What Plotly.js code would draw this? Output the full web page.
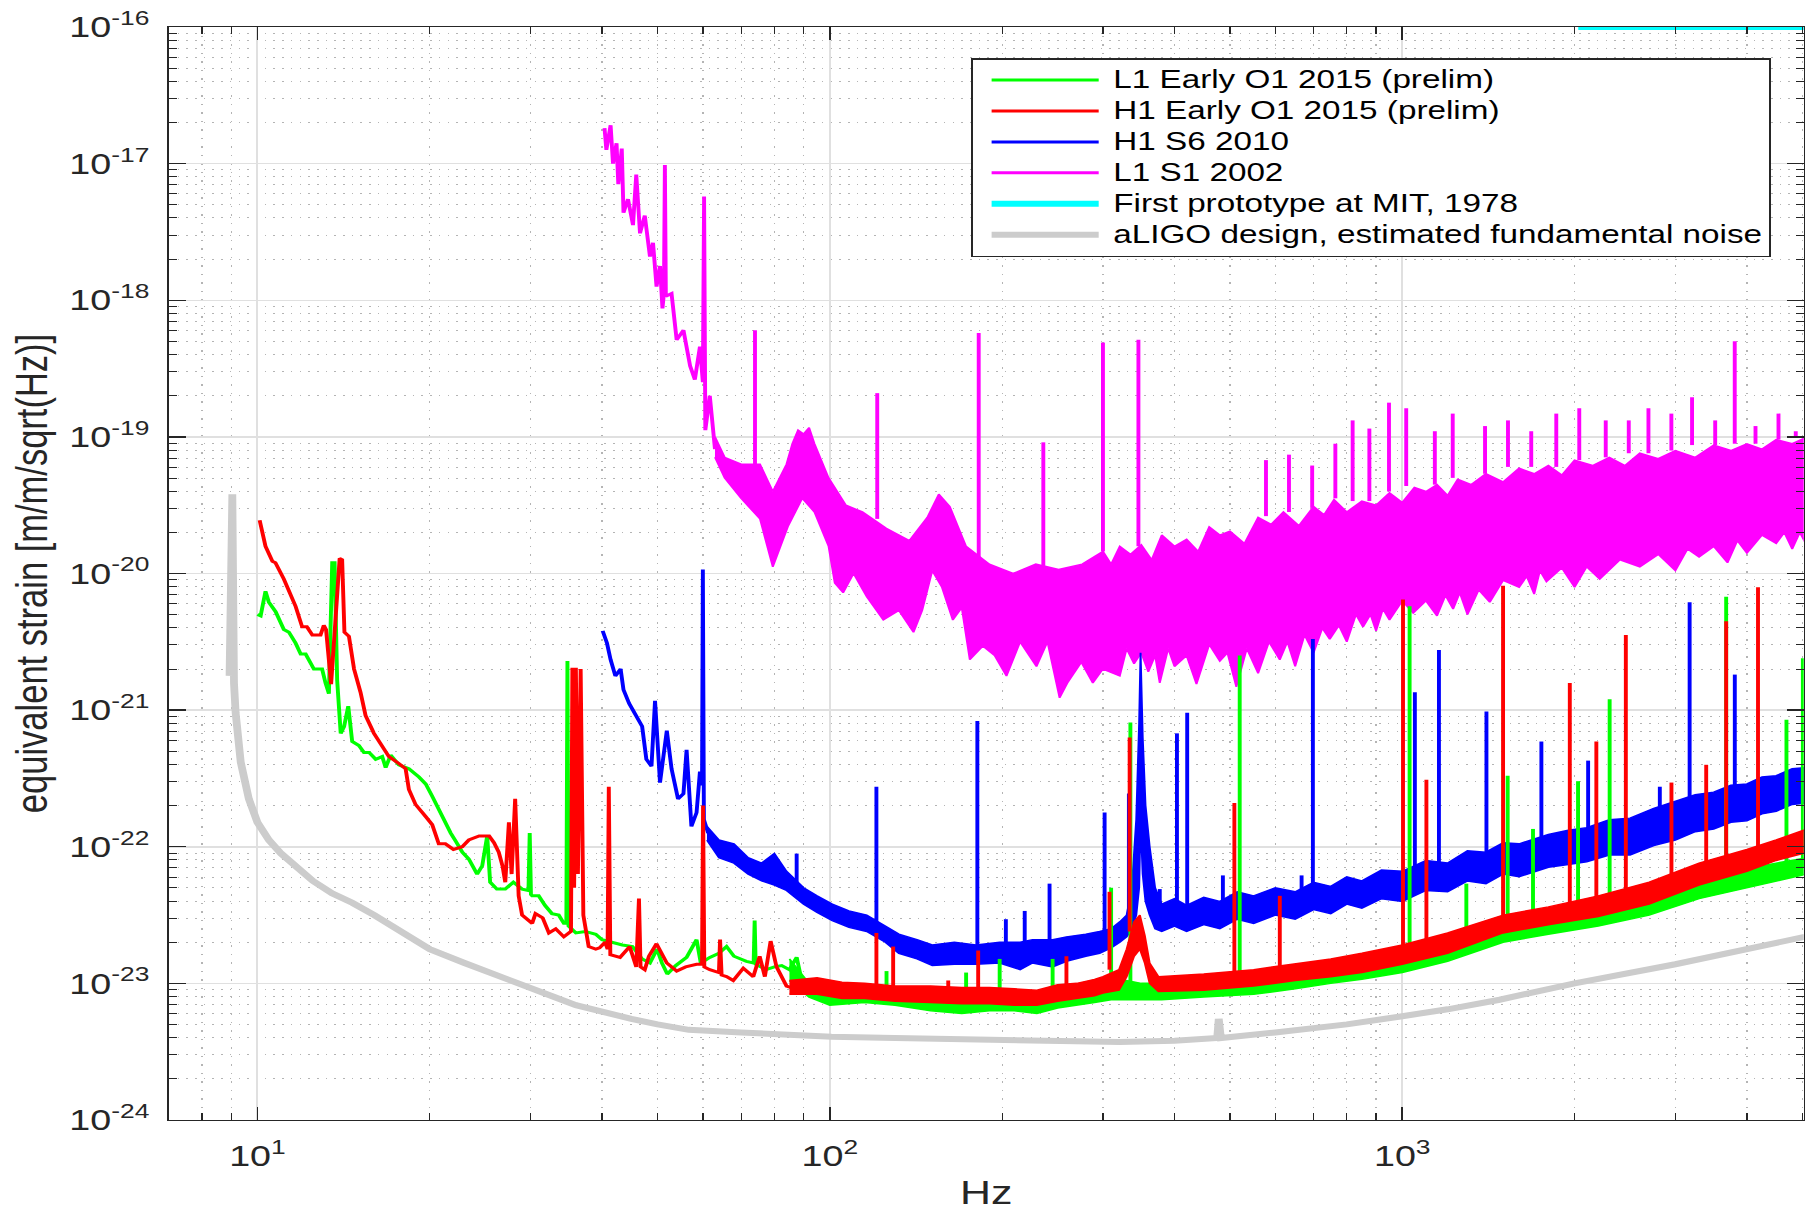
<!DOCTYPE html>
<html><head><meta charset="utf-8">
<script src="https://cdn.plot.ly/plotly-3.0.1.min.js"></script>
<style>
html,body{margin:0;padding:0;background:#fff;overflow:hidden}
#chart{width:1805px;height:1211px;overflow:hidden;background:#fff}
</style></head><body>
<div id="chart"></div>
<script>
// ---------- axis ticks ----------
const xTickVals = [10, 100, 1000];
const xTickText = ['10<sup>1</sup>', '10<sup>2</sup>', '10<sup>3</sup>'];
const yTickVals = [1e-24, 1e-23, 1e-22, 1e-21, 1e-20, 1e-19, 1e-18, 1e-17, 1e-16];
const yTickText = ['10<sup>-24</sup>','10<sup>-23</sup>','10<sup>-22</sup>','10<sup>-21</sup>','10<sup>-20</sup>','10<sup>-19</sup>','10<sup>-18</sup>','10<sup>-17</sup>','10<sup>-16</sup>'];

const seriesNames = ['L1 Early O1 2015 (prelim)', 'H1 Early O1 2015 (prelim)', 'H1 S6 2010', 'L1 S1 2002', 'First prototype at MIT, 1978', 'aLIGO design, estimated fundamental noise'];

// ---------- L1 Early O1 2015 (green) ----------
const l1_f = [10.0,10.13,10.33,10.47,10.76,11.12,11.35,11.66,11.9,12.14,12.55,12.97,13.15,13.33,13.51,13.64,13.78,13.98,14.17,14.41,14.64,15.04,15.35,15.67,16.09,16.52,16.75,17.09,17.66,18.39,19.15,19.68,20.2,20.74,21.3,21.76,22.2,22.8,23.4,24.2,24.7,25.2,25.5,26.2,27.1,28.0,29.0,29.75,29.9,30.05,30.2,31.0,31.8,32.7,33.6,34.3,34.65,34.8,34.95,36.0,37.4,39.0,40.0,41.7,43.4,45.2,47.0,48.5,49.9,50.9,52.0,53.8,56.2,58.5,59.5,61.7,64,66,68,71.5,73.6,73.9,74.2,77.4,80,82.4,85,87.5,89,91,96,101.4];
const l1_h = [5.01e-21,4.90e-21,7.41e-21,6.17e-21,5.25e-21,3.89e-21,3.72e-21,3.09e-21,2.57e-21,2.57e-21,2.00e-21,2.00e-21,1.58e-21,1.32e-21,1.20e-20,1.20e-20,1.66e-21,6.76e-22,7.59e-22,1.07e-21,5.89e-22,5.50e-22,4.90e-22,4.90e-22,4.37e-22,4.57e-22,3.80e-22,4.68e-22,3.98e-22,3.72e-22,3.24e-22,2.88e-22,2.34e-22,1.86e-22,1.51e-22,1.26e-22,1.10e-22,9.12e-23,8.13e-23,6.31e-23,7.24e-23,1.20e-22,5.50e-23,4.90e-23,4.90e-23,5.50e-23,4.90e-23,4.79e-23,1.26e-22,4.47e-23,4.37e-23,4.37e-23,3.72e-23,3.24e-23,3.16e-23,2.75e-23,2.75e-23,2.29e-21,2.63e-23,2.34e-23,2.40e-23,2.29e-23,2.09e-23,2.00e-23,1.91e-23,1.86e-23,1.51e-23,1.41e-23,1.78e-23,1.41e-23,1.17e-23,1.35e-23,1.55e-23,2.09e-23,1.41e-23,1.55e-23,1.66e-23,1.86e-23,1.58e-23,1.45e-23,1.41e-23,2.88e-23,1.38e-23,1.26e-23,1.32e-23,1.35e-23,1.26e-23,1.55e-23,1.12e-23,9.12e-24,8.51e-24,7.59e-24];
const l1_band_f = [85,92,100,115,130,150,170,190,210,230,250,270,290,310,330,350,380,450,550,650,750,850,1000,1200,1500,1800,2200,2700,3300,4000,4500,5100];
const l1_band_hi = [1.51e-23,1.00e-23,8.91e-24,9.33e-24,8.91e-24,8.32e-24,7.94e-24,8.32e-24,8.13e-24,7.94e-24,8.51e-24,8.71e-24,9.12e-24,1.00e-23,1.05e-23,1.00e-23,1.00e-23,1.05e-23,1.12e-23,1.26e-23,1.38e-23,1.51e-23,1.74e-23,2.09e-23,2.75e-23,3.16e-23,3.80e-23,4.57e-23,5.75e-23,6.92e-23,7.59e-23,8.32e-23];
const l1_band_lo = [1.05e-23,7.94e-24,6.92e-24,7.24e-24,6.92e-24,6.31e-24,6.03e-24,6.31e-24,6.31e-24,6.03e-24,6.61e-24,6.92e-24,7.24e-24,7.59e-24,7.59e-24,7.59e-24,7.59e-24,7.94e-24,8.32e-24,9.12e-24,1.00e-23,1.07e-23,1.20e-23,1.45e-23,2.00e-23,2.29e-23,2.63e-23,3.16e-23,4.17e-23,5.01e-23,5.62e-23,6.31e-23];
const l1_spk_f = [125.6,173,198,245,310,335,520,1030,1294,1528,1692,2028,2303,3680,4690,5010];
const l1_spk_top = [1.23e-23,1.20e-23,1.51e-23,1.51e-23,5.01e-23,8.13e-22,2.51e-21,5.75e-21,5.37e-23,3.31e-22,1.35e-22,3.02e-22,1.20e-21,6.76e-21,8.51e-22,2.40e-21];
const l1_spk_base = [8.32e-24,7.59e-24,7.59e-24,7.94e-24,8.91e-24,1.00e-23,1.00e-23,1.41e-23,1.91e-23,2.24e-23,2.40e-23,2.82e-23,3.16e-23,5.01e-23,6.31e-23,7.08e-23];

// ---------- H1 Early O1 2015 (red) ----------
const h1_f = [10.09,10.33,10.62,10.75,11.12,11.66,11.97,12.2,12.47,12.89,13.06,13.18,13.45,13.92,14.06,14.19,14.45,14.75,15.14,15.45,15.98,16.52,16.97,17.66,18.15,18.39,18.89,19.68,20.2,20.74,21.3,22.0,22.8,23.4,24.4,25.4,25.9,26.4,26.8,27.1,27.5,27.8,28.2,28.6,29.0,30.2,30.6,31.5,32.3,33.2,34.3,35.3,35.5,35.75,36.0,36.3,36.7,37.1,37.9,39.0,39.6,40.5,40.9,41.1,41.35,43.0,44.7,45.9,46.4,46.7,47.5,48.3,49.8,51.9,54.0,56.0,58.5,59.8,60.05,60.35,61.7,64.0,64.3,64.7,66,67.8,70.6,73.5,75.4,77,78.8,80.7,84,88.6,94.8,101.4];
const h1_h = [2.45e-20,1.58e-20,1.23e-20,1.20e-20,9.12e-21,5.75e-21,4.07e-21,4.07e-21,3.55e-21,3.55e-21,4.17e-21,3.89e-21,1.55e-21,1.29e-20,1.26e-20,3.72e-21,3.47e-21,2.00e-21,1.35e-21,9.12e-22,6.76e-22,5.50e-22,4.57e-22,4.07e-22,3.72e-22,2.63e-22,2.04e-22,1.66e-22,1.45e-22,1.05e-22,1.05e-22,9.55e-23,1.00e-22,1.12e-22,1.20e-22,1.20e-22,1.07e-22,9.12e-23,7.24e-23,5.50e-23,1.51e-22,6.31e-23,2.24e-22,4.37e-23,3.16e-23,2.75e-23,3.24e-23,3.02e-23,2.34e-23,2.51e-23,2.19e-23,2.40e-23,2.04e-21,5.01e-23,2.04e-21,6.31e-23,2.00e-21,3.16e-23,1.86e-23,1.78e-23,1.82e-23,2.00e-23,1.78e-23,2.75e-22,1.62e-23,1.55e-23,1.86e-23,1.32e-23,4.17e-23,1.32e-23,1.26e-23,1.58e-23,1.95e-23,1.41e-23,1.23e-23,1.32e-23,1.38e-23,1.38e-23,2.00e-22,1.32e-23,1.26e-23,1.20e-23,2.09e-23,1.15e-23,1.12e-23,1.05e-23,1.29e-23,1.12e-23,1.58e-23,1.12e-23,2.04e-23,1.32e-23,9.55e-24,8.91e-24,1.05e-23,8.71e-24];
const h1_band_f = [85,95,105,115,130,150,170,190,210,230,250,270,290,300,320,330,340,348,355,362,375,450,550,650,750,850,1000,1200,1500,1800,2200,2700,3300,4000,4500,5100];
const h1_band_hi = [1.05e-23,1.10e-23,1.02e-23,1.00e-23,9.55e-24,9.55e-24,9.33e-24,9.33e-24,9.12e-24,8.91e-24,9.77e-24,1.00e-23,1.07e-23,1.12e-23,1.26e-23,1.78e-23,2.82e-23,3.16e-23,2.24e-23,1.41e-23,1.12e-23,1.17e-23,1.26e-23,1.38e-23,1.51e-23,1.66e-23,1.91e-23,2.34e-23,3.16e-23,3.63e-23,4.37e-23,5.50e-23,7.59e-23,9.55e-23,1.12e-22,1.35e-22];
const h1_band_lo = [8.32e-24,8.32e-24,7.76e-24,7.76e-24,7.41e-24,7.24e-24,7.08e-24,7.08e-24,6.92e-24,6.92e-24,7.41e-24,7.76e-24,8.13e-24,8.51e-24,8.91e-24,1.12e-23,1.58e-23,1.78e-23,1.41e-23,1.00e-23,8.71e-24,8.91e-24,9.55e-24,1.05e-23,1.12e-23,1.20e-23,1.38e-23,1.66e-23,2.34e-23,2.69e-23,3.09e-23,3.80e-23,5.25e-23,6.61e-23,7.94e-23,9.12e-23];
const h1_spk_f = [120.6,129,161,181.6,259,308,334,509,611,1003,1102,1500,1962,2183,2458,2953,3396,3680,4183];
const h1_spk_top = [2.34e-23,1.86e-23,1.05e-23,1.74e-23,1.58e-23,4.68e-23,6.31e-22,2.09e-22,4.37e-23,6.46e-21,3.09e-22,8.13e-21,1.58e-21,5.89e-22,3.55e-21,2.95e-22,3.98e-22,4.47e-21,7.94e-21];
const h1_spk_base = [8.91e-24,8.71e-24,7.94e-24,7.94e-24,8.32e-24,1.26e-23,2.40e-23,1.00e-23,1.12e-23,1.58e-23,1.74e-23,2.63e-23,3.31e-23,3.63e-23,4.17e-23,5.01e-23,6.31e-23,7.08e-23,8.91e-23];

// ---------- H1 S6 2010 (blue) ----------
const s6_f = [40.1,40.8,41.4,42.2,43.1,43.6,44.6,45.8,47.0,47.8,48.8,49.5,50.5,51.9,52.9,54.3,55.5,56.2,57.3,58.5,59.3,59.8,60.0,60.25,61.3];
const s6_h = [3.80e-21,3.09e-21,2.34e-21,1.78e-21,2.00e-21,1.41e-21,1.12e-21,9.12e-22,7.59e-22,4.37e-22,3.89e-22,1.17e-21,2.95e-22,7.08e-22,3.72e-22,2.24e-22,2.45e-22,5.13e-22,1.41e-22,1.78e-22,3.55e-22,2.82e-22,1.07e-20,1.58e-22,1.26e-22];
const s6_band_f = [61,64,68,72,76,80,84,90,95,101,108,116,125,132,142,151,165,180,198,215,226,245,259,280,296,310,321,330,337,343,347,349,352,356,362,370,380,400,420,450,480,515,550,600,650,700,750,800,850,920,1000,1100,1200,1300,1400,1500,1600,1800,1950,2100,2300,2500,2750,3000,3250,3500,3750,4000,4250,4500,4800,5100];
const s6_band_hi = [1.41e-22,1.12e-22,1.05e-22,8.32e-23,7.59e-23,8.91e-23,6.61e-23,5.01e-23,4.37e-23,3.80e-23,3.39e-23,3.16e-23,2.63e-23,2.29e-23,2.09e-23,1.91e-23,2.00e-23,1.91e-23,2.00e-23,2.00e-23,2.09e-23,2.09e-23,2.19e-23,2.29e-23,2.40e-23,2.51e-23,2.82e-23,3.16e-23,5.01e-23,1.58e-22,7.94e-22,2.63e-21,6.31e-22,2.00e-22,1.00e-22,5.01e-23,3.80e-23,4.17e-23,3.72e-23,4.27e-23,3.98e-23,4.68e-23,4.37e-23,5.01e-23,4.68e-23,5.50e-23,5.13e-23,6.03e-23,5.62e-23,6.76e-23,6.61e-23,7.94e-23,7.59e-23,9.33e-23,9.12e-23,1.07e-22,1.05e-22,1.23e-22,1.32e-22,1.38e-22,1.58e-22,1.62e-22,1.91e-22,2.14e-22,2.40e-22,2.51e-22,2.82e-22,2.88e-22,3.24e-22,3.31e-22,3.72e-22,3.80e-22];
const s6_band_lo = [1.12e-22,8.32e-23,7.59e-23,6.31e-23,5.62e-23,5.25e-23,4.79e-23,3.80e-23,3.31e-23,2.88e-23,2.57e-23,2.40e-23,2.00e-23,1.66e-23,1.51e-23,1.35e-23,1.38e-23,1.38e-23,1.41e-23,1.26e-23,1.41e-23,1.32e-23,1.45e-23,1.58e-23,1.66e-23,1.82e-23,2.00e-23,2.19e-23,2.51e-23,3.16e-23,5.01e-23,1.58e-22,6.31e-23,3.98e-23,3.16e-23,2.51e-23,2.40e-23,2.63e-23,2.40e-23,2.69e-23,2.51e-23,2.95e-23,2.75e-23,3.16e-23,2.95e-23,3.47e-23,3.24e-23,3.80e-23,3.55e-23,4.17e-23,3.98e-23,4.79e-23,4.68e-23,5.62e-23,5.37e-23,6.31e-23,6.03e-23,7.08e-23,7.41e-23,7.76e-23,8.71e-23,8.71e-23,1.02e-22,1.12e-22,1.29e-22,1.35e-22,1.51e-22,1.55e-22,1.74e-22,1.82e-22,2.04e-22,2.09e-22];
const s6_spk_f = [87.5,120.6,181,203,219,242,302,333,377,404,421,486,667,698,1052,1159,1403,1750,2112,2818,3177,3810];
const s6_spk_top = [8.91e-23,2.75e-22,8.32e-22,2.95e-23,3.39e-23,5.37e-23,1.78e-22,2.45e-22,4.90e-23,6.76e-22,9.55e-22,6.17e-23,6.17e-23,3.31e-21,1.35e-21,2.75e-21,9.77e-22,5.89e-22,4.27e-22,2.75e-22,6.17e-21,1.82e-21];
const s6_spk_base = [4.47e-23,2.75e-23,1.58e-23,1.58e-23,1.58e-23,1.66e-23,2.00e-23,2.82e-23,3.16e-23,3.16e-23,3.16e-23,3.55e-23,4.17e-23,4.17e-23,5.62e-23,6.31e-23,7.94e-23,8.91e-23,1.00e-22,1.41e-22,1.78e-22,2.24e-22];

// ---------- L1 S1 2002 (magenta) ----------
const s1_f = [40.4,40.7,41.4,41.8,42.4,42.7,43.3,43.6,44.4,45.3,45.9,46.6,47.5,48.5,49.1,49.8,50.5,51.0,51.3,51.5,51.7,52.9,54.0,55.5,57.0,58.1,59.3,60.0,60.3,60.6,61.7,63.0];
const s1_h = [1.82e-17,1.26e-17,1.91e-17,1.00e-17,1.41e-17,7.08e-18,1.29e-17,4.37e-18,5.50e-18,3.55e-18,8.32e-18,3.09e-18,4.17e-18,2.09e-18,2.63e-18,1.26e-18,1.78e-18,8.71e-19,1.12e-18,9.77e-18,1.07e-18,1.12e-18,5.13e-19,6.03e-19,3.31e-19,2.63e-19,4.57e-19,2.51e-19,5.75e-18,1.12e-19,2.00e-19,8.13e-20];
const s1_hi_f = [63,65.5,70,75.5,79.5,84,86,88,90,92,94,97,99.5,106.7,114,125.5,137.7,148,155,162,173,190,209,229,251,276,300,310,321,335,350,365,380,400,420,440,460,480,500,530,560,590,620,660,700,730,760,800,850,900,950,1000,1050,1100,1150,1200,1250,1320,1400,1500,1600,1700,1800,1900,2000,2150,2300,2450,2600,2800,3000,3250,3500,3750,4000,4250,4500,4800,5100];
const s1_hi = [1.00e-19,7.08e-20,6.31e-20,6.31e-20,3.98e-20,6.31e-20,8.91e-20,1.12e-19,1.05e-19,1.17e-19,8.91e-20,6.61e-20,5.01e-20,3.16e-20,2.82e-20,2.14e-20,1.74e-20,2.57e-20,3.80e-20,3.09e-20,1.58e-20,1.17e-20,1.00e-20,1.17e-20,1.07e-20,1.17e-20,1.45e-20,1.17e-20,1.58e-20,1.38e-20,1.62e-20,1.26e-20,1.91e-20,1.58e-20,1.78e-20,1.45e-20,2.19e-20,1.91e-20,2.04e-20,1.66e-20,2.57e-20,2.29e-20,2.82e-20,2.24e-20,3.09e-20,2.69e-20,3.47e-20,2.82e-20,3.39e-20,3.16e-20,3.89e-20,3.31e-20,4.27e-20,3.98e-20,4.47e-20,3.72e-20,4.90e-20,4.47e-20,5.37e-20,4.68e-20,5.89e-20,5.37e-20,6.17e-20,5.25e-20,6.76e-20,6.17e-20,7.08e-20,6.17e-20,7.59e-20,6.92e-20,7.94e-20,7.08e-20,8.71e-20,7.94e-20,8.91e-20,8.13e-20,9.55e-20,8.91e-20,1.00e-19];
const s1_lo_f = [63,65.5,70,75.5,79.5,82,84.6,89.5,94,99.5,102,105.5,110,116,124,132,140,145,151,157,164,170,175.6,185,194,203.5,215,229.6,240,252,260,275,288,300,321,330,340,350,360,370,377,390,400,420,437,460,480,495,513,535,560,585,611,630,650,675,700,725,747,775,800,830,854,880,900,925,950,1000,1045,1100,1150,1190,1227,1260,1300,1360,1422,1500,1600,1650,1700,1740,1786,1900,2000,2100,2213,2400,2600,2800,3000,3150,3300,3500,3700,3850,4000,4250,4500,4650,4800,4950,5100];
const s1_lo = [7.08e-20,5.01e-20,3.55e-20,2.51e-20,1.12e-20,1.58e-20,2.24e-20,3.55e-20,2.82e-20,1.58e-20,8.51e-21,7.24e-21,1.00e-20,6.76e-21,4.57e-21,5.37e-21,3.72e-21,5.37e-21,1.05e-20,7.94e-21,4.57e-21,5.62e-21,2.34e-21,2.95e-21,2.51e-21,1.78e-21,3.16e-21,2.09e-21,3.16e-21,1.23e-21,1.58e-21,2.24e-21,1.58e-21,2.00e-21,1.78e-21,2.82e-21,2.19e-21,2.63e-21,1.91e-21,2.51e-21,1.58e-21,2.82e-21,2.09e-21,2.51e-21,1.55e-21,3.02e-21,2.29e-21,2.63e-21,1.48e-21,2.82e-21,1.86e-21,3.16e-21,2.34e-21,3.16e-21,2.09e-21,3.55e-21,2.63e-21,3.98e-21,3.31e-21,4.17e-21,3.16e-21,5.01e-21,4.07e-21,5.01e-21,3.80e-21,5.50e-21,4.57e-21,6.31e-21,5.13e-21,6.31e-21,4.90e-21,6.92e-21,5.50e-21,7.24e-21,5.01e-21,7.59e-21,6.17e-21,8.91e-21,7.94e-21,9.55e-21,7.08e-21,1.05e-20,8.71e-21,1.10e-20,7.94e-21,1.12e-20,9.12e-21,1.26e-20,1.12e-20,1.38e-20,1.05e-20,1.51e-20,1.32e-20,1.58e-20,1.20e-20,1.74e-20,1.41e-20,1.91e-20,1.66e-20,2.00e-20,1.51e-20,2.00e-20,1.58e-20];
const s1_spk_f = [74,121,182,236,300,346,578,634,696,764,819,876,948,1016,1140,1225,1395,1530,1680,1858,2038,2267,2487,2692,2952,3208,3521,3809,4141,4542,4869];
const s1_spk_top = [6.03e-19,2.09e-19,5.75e-19,9.12e-20,4.90e-19,5.13e-19,6.76e-20,7.41e-20,6.17e-20,8.91e-20,1.32e-19,1.15e-19,1.78e-19,1.62e-19,1.10e-19,1.48e-19,1.20e-19,1.32e-19,1.10e-19,1.48e-19,1.62e-19,1.32e-19,1.32e-19,1.62e-19,1.48e-19,1.95e-19,1.32e-19,5.01e-19,1.20e-19,1.48e-19,1.10e-19];
const s1_spk_base = [6.31e-20,2.51e-20,1.26e-20,1.12e-20,1.45e-20,1.58e-20,2.63e-20,2.82e-20,3.02e-20,3.55e-20,3.39e-20,3.39e-20,3.98e-20,4.37e-20,4.47e-20,5.01e-20,5.37e-20,6.03e-20,6.03e-20,6.03e-20,6.76e-20,7.08e-20,7.59e-20,7.59e-20,7.94e-20,8.71e-20,8.71e-20,8.91e-20,8.91e-20,9.55e-20,1.00e-19];

// ---------- First prototype at MIT, 1978 (cyan) ----------
const mit_f = [2030, 6000];
const mit_h = [1.0e-16, 1.0e-16];

// ---------- aLIGO design (gray) ----------
const aligo_f = [8.94,9.04,9.10,9.16,9.35,9.66,10.0,10.47,11.0,11.98,12.5,13.5,14.64,16,18,20,23,26,29.9,33,36,40,45,50,56.7,70,80,100.7,130,173,230,260,321,400,475,478,482,600,700,800,1000,1200,1479,2000,3000,4000,5046];
const aligo_h = [1.78e-21,3.80e-20,1.58e-21,9.55e-22,4.17e-22,2.24e-22,1.51e-22,1.12e-22,8.91e-23,6.46e-23,5.62e-23,4.57e-23,3.89e-23,3.16e-23,2.34e-23,1.78e-23,1.41e-23,1.15e-23,9.33e-24,7.94e-24,6.92e-24,6.17e-24,5.50e-24,5.01e-24,4.57e-24,4.37e-24,4.22e-24,4.07e-24,3.98e-24,3.89e-24,3.80e-24,3.76e-24,3.72e-24,3.80e-24,3.98e-24,5.50e-24,3.98e-24,4.37e-24,4.68e-24,5.01e-24,5.75e-24,6.46e-24,7.59e-24,1.00e-23,1.38e-23,1.78e-23,2.19e-23];

// ---------- styling ----------
const FONT = '"Liberation Sans", Arial, Helvetica, sans-serif';
const INK = '#262626';
const C_GREEN = '#00ff00', C_RED = '#ff0000', C_BLUE = '#0000ff', C_MAG = '#ff00ff', C_CYAN = '#00ffff', C_GRAY = '#cccccc';
const BASE_W = 1389, BASE_H = 1211, OUT_W = 1805;   // drawn narrow, then stretched horizontally like the reference
const TICK_PX = 29, LEGEND_TEXT_PX = 25.6, YTITLE_SHIFT = -6;

function bandTrace(fHi, hi, fLo, lo, color) {
  return {type: 'scatter', mode: 'lines', x: fHi.concat(fLo.slice().reverse()), y: hi.concat(lo.slice().reverse()),
    fill: 'toself', fillcolor: color, line: {color: color, width: 1.5}, showlegend: false, hoverinfo: 'skip'};
}
function spikeTrace(f, top, base, color) {
  const x = [], y = [];
  for (let i = 0; i < f.length; i++) { x.push(f[i], f[i], null); y.push(base[i], top[i], null); }
  return {type: 'scatter', mode: 'lines', x: x, y: y, connectgaps: false, line: {color: color, width: 3}, showlegend: false, hoverinfo: 'skip'};
}
function lineTrace(f, h, color, width, name, rank) {
  return {type: 'scatter', mode: 'lines', x: f, y: h, name: name, legendrank: rank, line: {color: color, width: width}, hoverinfo: 'skip'};
}

const traces = [
  lineTrace(aligo_f, aligo_h, C_GRAY, 6, seriesNames[5], 6),
  bandTrace(s1_hi_f, s1_hi, s1_lo_f, s1_lo, C_MAG),
  lineTrace(s1_f, s1_h, C_MAG, 3, seriesNames[3], 4),
  spikeTrace(s1_spk_f, s1_spk_top, s1_spk_base, C_MAG),
  bandTrace(s6_band_f, s6_band_hi, s6_band_f, s6_band_lo, C_BLUE),
  lineTrace(s6_f, s6_h, C_BLUE, 3, seriesNames[2], 3),
  spikeTrace(s6_spk_f, s6_spk_top, s6_spk_base, C_BLUE),
  bandTrace(l1_band_f, l1_band_hi, l1_band_f, l1_band_lo, C_GREEN),
  lineTrace(l1_f, l1_h, C_GREEN, 3, seriesNames[0], 1),
  spikeTrace(l1_spk_f, l1_spk_top, l1_spk_base, C_GREEN),
  bandTrace(h1_band_f, h1_band_hi, h1_band_f, h1_band_lo, C_RED),
  lineTrace(h1_f, h1_h, C_RED, 3, seriesNames[1], 2),
  spikeTrace(h1_spk_f, h1_spk_top, h1_spk_base, C_RED),
  lineTrace(mit_f, mit_h, C_CYAN, 6, seriesNames[4], 5)
];

const axisCommon = {
  type: 'log', ticks: 'inside', tickcolor: INK, showline: true, linecolor: INK, linewidth: 1.3,
  mirror: 'ticks', showgrid: true, gridcolor: '#e0e0e0', gridwidth: 1.5, zeroline: false,
  tickmode: 'array', tickfont: {family: FONT, size: TICK_PX, color: INK}
};

const layout = {
  width: BASE_W, height: BASE_H,
  margin: {l: 130, r: 1, t: 27, b: 91, pad: 0},
  paper_bgcolor: '#ffffff', plot_bgcolor: '#ffffff',
  font: {family: FONT, color: INK, size: TICK_PX},
  showlegend: true,
  legend: {x: 0.4906, y: 0.9716, xanchor: 'left', yanchor: 'top', bgcolor: '#ffffff', bordercolor: INK, borderwidth: 1.5,
    font: {family: FONT, size: 21.5, color: '#000000'}, itemwidth: 98, traceorder: 'normal', tracegroupgap: 0},
  xaxis: Object.assign({}, axisCommon, {
    range: [0.8454, 3.7013], tickvals: xTickVals, ticktext: xTickText, ticklen: 13, tickwidth: 1.3, ticklabelstandoff: 10,
    minor: {dtick: 'D1', ticks: 'inside', ticklen: 7, tickcolor: INK, tickwidth: 1, showgrid: true, gridcolor: '#b4b4b4', gridwidth: 1, griddash: '1.5px,7px'},
    title: {text: 'Hz', font: {family: FONT, size: 33, color: INK}}
  }),
  yaxis: Object.assign({}, axisCommon, {
    range: [-24, -16], tickvals: yTickVals, ticktext: yTickText, ticklen: 13, tickwidth: 1.3, ticklabelstandoff: 8,
    minor: {dtick: 'D1', ticks: 'inside', ticklen: 6, tickcolor: INK, tickwidth: 1, showgrid: true, gridcolor: '#b4b4b4', gridwidth: 1, griddash: '1.2px,5.5px'},
    title: {text: 'equivalent strain [m/m/sqrt(Hz)]', font: {family: FONT, size: 34.5, color: INK}, standoff: 0}
  })
};

Plotly.newPlot('chart', traces, layout, {displayModeBar: false, staticPlot: true}).then(function (gd) {
  // legend: larger glyphs with the reference's tight row spacing
  try {
    const legend = gd.querySelector('g.legend');
    if (legend) {
      const texts = Array.from(legend.querySelectorAll('text.legendtext'));
      let before = 0, after = 0;
      texts.forEach(t => { before = Math.max(before, t.getBBox().width); });
      texts.forEach(t => { t.style.fontSize = LEGEND_TEXT_PX + 'px'; });
      texts.forEach(t => { after = Math.max(after, t.getBBox().width); });
      const delta = after - before;
      const bg = legend.querySelector('rect.bg');
      if (bg) bg.setAttribute('width', parseFloat(bg.getAttribute('width')) + delta);
      const sb = legend.querySelector('g.scrollbox');
      const cp = sb && sb.getAttribute('clip-path');
      if (cp) {
        const m = cp.match(/#([^"')]+)/);
        const el = m && document.getElementById(m[1]);
        const rr = el && (el.tagName.toLowerCase() === 'rect' ? el : el.querySelector('rect'));
        if (rr) rr.setAttribute('width', parseFloat(rr.getAttribute('width')) + delta);
      }
      legend.querySelectorAll('g.legendlines path').forEach(p => p.setAttribute('d', 'M14.4,0h82.4'));
    }
  } catch (e) {}
  // y title a little further left, as in the reference
  try {
    const yt = gd.querySelector('g.g-ytitle');
    if (yt) yt.setAttribute('transform', 'translate(' + YTITLE_SHIFT + ',0)');
  } catch (e) {}
  // horizontal stretch of the whole drawing, as in the reference image
  const cont = gd.querySelector('.svg-container');
  if (cont) cont.style.width = OUT_W + 'px';
  gd.querySelectorAll('svg.main-svg').forEach(s => {
    s.setAttribute('viewBox', '0 0 ' + BASE_W + ' ' + BASE_H);
    s.setAttribute('preserveAspectRatio', 'none');
    s.setAttribute('width', OUT_W);
    s.style.width = OUT_W + 'px';
  });
});
</script>
</body></html>
